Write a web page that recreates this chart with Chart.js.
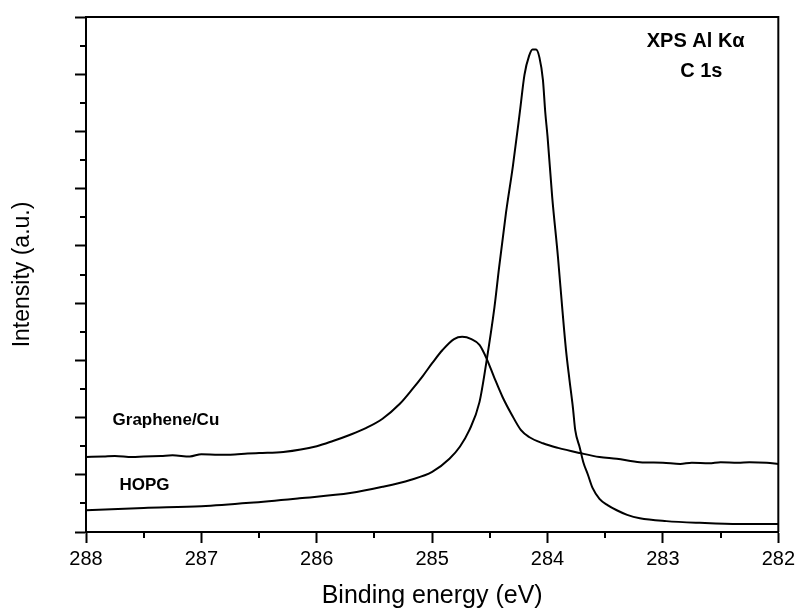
<!DOCTYPE html>
<html>
<head>
<meta charset="utf-8">
<script src="https://cdn.jsdelivr.net/npm/chart.js@4.4.0/dist/chart.umd.min.js"></script>
<style>
  html, body { margin: 0; padding: 0; background: #fff; }
</style>
</head>
<body>
<canvas id="xpsChart" width="799" height="610"></canvas>
<script>
// binding energy (eV) / intensity (a.u.)
const hopgEnergy = [288.00, 287.50, 287.00, 286.58, 286.15, 285.71, 285.43, 285.19, 285.00, 284.85,
  284.76, 284.68, 284.59, 284.53, 284.46, 284.42, 284.36, 284.30, 284.24, 284.20, 284.16, 284.13,
  284.10, 284.07, 284.04, 284.02, 284.00, 283.96, 283.91, 283.87, 283.84, 283.81, 283.78, 283.76,
  283.72, 283.69, 283.65, 283.61, 283.55, 283.48, 283.40, 283.31, 283.20, 282.97, 282.68, 282.34, 282.00];
const hopgIntensity = [0.38, 0.42, 0.45, 0.51, 0.59, 0.68, 0.79, 0.91, 1.05, 1.28,
  1.49, 1.77, 2.27, 2.97, 3.93, 4.62, 5.58, 6.40, 7.34, 7.99, 8.32, 8.43,
  8.43, 8.29, 7.90, 7.34, 6.91, 5.86, 4.81, 3.85, 3.18, 2.66, 2.17, 1.78,
  1.47, 1.22, 1.00, 0.77, 0.58, 0.47, 0.38, 0.30, 0.24, 0.19, 0.16, 0.14, 0.14];

const grapheneEnergy = [288.00, 287.85, 287.75, 287.60, 287.50, 287.35, 287.25, 287.10, 287.00, 286.85,
  286.75, 286.60, 286.50, 286.29, 286.00, 285.86, 285.71, 285.57, 285.43, 285.28, 285.17, 285.08,
  285.00, 284.91, 284.81, 284.74, 284.66, 284.59, 284.53, 284.46, 284.39, 284.31, 284.23, 284.16,
  284.04, 283.91, 283.72, 283.55, 283.40, 283.20, 283.00, 282.85, 282.75, 282.60, 282.50, 282.35,
  282.25, 282.10, 282.00];
const grapheneIntensity = [1.31, 1.32, 1.33, 1.31, 1.32, 1.33, 1.34, 1.32, 1.36, 1.35,
  1.35, 1.37, 1.38, 1.40, 1.50, 1.59, 1.70, 1.82, 1.98, 2.24, 2.50, 2.73,
  2.95, 3.18, 3.37, 3.41, 3.37, 3.27, 3.04, 2.69, 2.36, 2.05, 1.78, 1.66,
  1.55, 1.47, 1.38, 1.31, 1.28, 1.22, 1.21, 1.19, 1.21, 1.20, 1.22, 1.21,
  1.22, 1.21, 1.19];

const xTickLabels = ['288', '287', '286', '285', '284', '283', '282'];

// text drawn inside the plot, placed in data units
const notes = [
  { text: 'XPS Al K\u03b1', x: 283.14, y: 8.57, size: 20 },
  { text: 'C 1s', x: 282.85, y: 8.04, size: 20 },
  { text: 'Graphene/Cu', x: 287.77, y: 1.96, size: 17 },
  { text: 'HOPG', x: 287.71, y: 0.82, size: 17 },
];

const FONT = 'Arial, "Liberation Sans", sans-serif';

function toPoints(xs, ys) {
  return xs.map((v, i) => ({ x: v, y: ys[i] }));
}

// frame, minor ticks and the text notes
const extras = {
  id: 'extras',
  afterDraw(chart) {
    const { ctx, chartArea: a, scales: { x, y } } = chart;
    ctx.save();
    ctx.strokeStyle = '#000';
    ctx.lineWidth = 2;
    ctx.beginPath();
    ctx.moveTo(a.left, a.top);
    ctx.lineTo(a.right, a.top);
    ctx.lineTo(a.right, a.bottom);
    ctx.stroke();

    ctx.beginPath();
    for (let v = x.min + 0.5; v < x.max; v += 1) {
      const px = Math.round(x.getPixelForValue(v));
      ctx.moveTo(px, a.bottom);
      ctx.lineTo(px, a.bottom + 6);
    }
    for (let v = y.min + 0.5; v < y.max; v += 1) {
      const py = Math.round(y.getPixelForValue(v));
      ctx.moveTo(a.left, py);
      ctx.lineTo(a.left - 6, py);
    }
    ctx.stroke();

    ctx.fillStyle = '#000';
    ctx.textAlign = 'left';
    ctx.textBaseline = 'middle';
    notes.forEach(n => {
      ctx.font = `bold ${n.size}px ${FONT}`;
      ctx.fillText(n.text, x.getPixelForValue(n.x), y.getPixelForValue(n.y));
    });
    ctx.restore();
  }
};

const lineStyle = {
  borderColor: '#000',
  borderWidth: 2,
  pointRadius: 0,
  fill: false,
  cubicInterpolationMode: 'monotone',
};

new Chart(document.getElementById('xpsChart'), {
  type: 'line',
  data: {
    datasets: [
      { label: 'Graphene/Cu', data: toPoints(grapheneEnergy, grapheneIntensity), ...lineStyle },
      { label: 'HOPG', data: toPoints(hopgEnergy, hopgIntensity), ...lineStyle },
    ]
  },
  options: {
    responsive: false,
    animation: false,
    layout: { padding: { top: 17, right: 19, left: 0, bottom: 0 } },
    plugins: { legend: { display: false }, tooltip: { enabled: false } },
    scales: {
      x: {
        type: 'linear',
        reverse: true,
        min: 282,
        max: 288,
        border: { display: true, color: '#000', width: 2 },
        grid: { drawOnChartArea: false, drawTicks: true, tickLength: 11, tickWidth: 2, tickColor: '#000' },
        ticks: {
          stepSize: 1,
          color: '#000',
          padding: 4,
          maxRotation: 0,
          font: { family: FONT, size: 20 },
          callback: (v) => xTickLabels.includes(String(v)) ? String(v) : ''
        },
        title: {
          display: true,
          text: 'Binding energy (eV)',
          color: '#000',
          font: { family: FONT, size: 25, lineHeight: 1 },
          padding: { top: 0, bottom: 1 }
        },
        afterFit: (s) => { s.height = 78; }
      },
      y: {
        min: 0,
        max: 9,
        border: { display: true, color: '#000', width: 2 },
        grid: { drawOnChartArea: false, drawTicks: true, tickLength: 11, tickWidth: 2, tickColor: '#000' },
        ticks: { stepSize: 1, display: false },
        title: {
          display: true,
          text: 'Intensity (a.u.)',
          color: '#000',
          font: { family: FONT, size: 23, lineHeight: 1 },
          padding: { top: 11, bottom: 0 }
        },
        afterFit: (s) => { s.width = 86; }
      }
    }
  },
  plugins: [extras]
});
</script>
</body>
</html>
